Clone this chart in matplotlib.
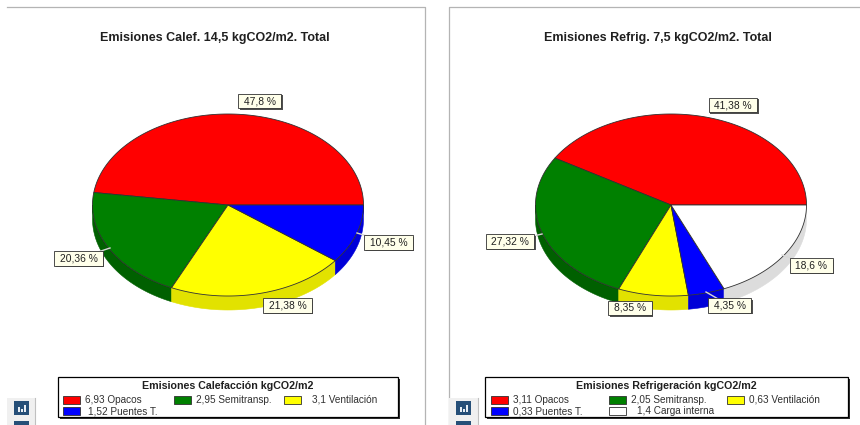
import numpy as np
import matplotlib
matplotlib.use("Agg")
import matplotlib.pyplot as plt
from matplotlib.patches import Rectangle

plt.rcParams["font.family"] = ["Liberation Sans", "DejaVu Sans"]

# ── Data ──────────────────────────────────────────────────────────────────────
heat_title = "Emisiones Calef. 14,5 kgCO2/m2. Total"
heat_legend_title = "Emisiones Calefacción kgCO2/m2"
heat_pct = [47.8, 20.36, 21.38, 10.45]
heat_values = ["6,93", "2,95", "3,1", "1,52"]
heat_names = ["Opacos", "Semitransp.", "Ventilación", "Puentes T."]
heat_colors = ["#ff0000", "#008000", "#ffff00", "#0000ff"]

cool_title = "Emisiones Refrig. 7,5 kgCO2/m2. Total"
cool_legend_title = "Emisiones Refrigeración kgCO2/m2"
cool_pct = [41.38, 27.32, 8.35, 4.35, 18.6]
cool_values = ["3,11", "2,05", "0,63", "0,33", "1,4"]
cool_names = ["Opacos", "Semitransp.", "Ventilación", "Puentes T.", "Carga interna"]
cool_colors = ["#ff0000", "#008000", "#ffff00", "#0000ff", "#ffffff"]

SIDE = {"#ff0000": "#cc0000", "#008000": "#006000", "#ffff00": "#e2e200",
        "#0000ff": "#0000d8", "#ffffff": "#dcdcdc"}

# ── Canvas in pixel coordinates ───────────────────────────────────────────────
fig = plt.figure(figsize=(8.6, 4.25), dpi=100)
ax = fig.add_axes([0, 0, 1, 1])
ax.set_xlim(0, 860)
ax.set_ylim(425, 0)
ax.axis("off")


def tilted_pie(cx, cy, pct, colors, rx=135.5, ry=91, depth=14):
    edges = np.cumsum([0] + list(pct)) / sum(pct) * 2 * np.pi

    # side wall first, only the front half of the ellipse is visible
    for a0, a1, c in zip(edges[:-1], edges[1:], colors):
        lo, hi = max(a0, np.pi), min(a1, 2 * np.pi)
        if hi <= lo:
            continue
        t = np.linspace(lo, hi, 80)
        x = cx + rx * np.cos(t)
        y = cy - ry * np.sin(t)
        ax.fill(np.r_[x, x[::-1]], np.r_[y, y[::-1] + depth], fc=SIDE[c],
                ec=SIDE[c], lw=0.4, zorder=2)

    # top face
    for a0, a1, c in zip(edges[:-1], edges[1:], colors):
        t = np.linspace(a0, a1, 160)
        x = np.r_[cx, cx + rx * np.cos(t)]
        y = np.r_[cy, cy - ry * np.sin(t)]
        ax.fill(x, y, fc=c, ec="#303030", lw=0.6, zorder=3)


def pct_label(x, y, pct, lead=None):
    txt = f"{pct} %".replace(".", ",")
    if lead is not None:
        ax.plot([lead[0], x], [lead[1], y], color="#d8d8d8", lw=1, zorder=4)
    label = ax.text(x, y, txt, fontsize=7.4, ha="center", va="center", color="#202020", zorder=7)
    # box is sized from the text so it stays flatter than a bbox padding would
    ext = label.get_window_extent(fig.canvas.get_renderer())
    w = ext.width + 11
    h = 14.5
    ax.add_patch(Rectangle((x - w / 2 + 1.5, y - h / 2 + 1.5), w, h, fc="#505050", ec="none", zorder=5))
    ax.add_patch(Rectangle((x - w / 2, y - h / 2), w, h, fc="#ffffea", ec="#303030", lw=0.6, zorder=6))


def legend_box(x0, x1, title, values, names, colors, swatch_x, text_x):
    ax.add_patch(Rectangle((x0 + 2, 379), x1 - x0, 40, fc="#303030", ec="none", zorder=5))
    ax.add_patch(Rectangle((x0, 377), x1 - x0, 40, fc="white", ec="black", lw=0.9, zorder=6))
    ax.text((x0 + x1) / 2, 385.7, title, fontsize=7.7, fontweight="bold", ha="center",
            va="center", color="#202020", zorder=7)
    for i, (v, n, c) in enumerate(zip(values, names, colors)):
        y = 400 if i < 3 else 411
        ax.add_patch(Rectangle((swatch_x[i], y - 4), 17, 8, fc=c, ec="#303030", lw=0.6, zorder=7))
        ax.text(text_x[i], y, f"{v} {n}", fontsize=7.2, ha="left", va="center",
                color="#303030", zorder=7)


def side_icons(x, bg_x0, bg_x1):
    ax.add_patch(Rectangle((bg_x0, 398), bg_x1 - bg_x0, 27, fc="#f0f0f0", ec="none", zorder=1))
    ax.plot([bg_x1, bg_x1], [398, 425], color="#c0c0c0", lw=0.8, zorder=1)
    ax.add_patch(Rectangle((x, 401), 14.5, 14, fc="#264f78", ec="none", zorder=2))
    ax.add_patch(Rectangle((x, 421), 14.5, 4, fc="#264f78", ec="none", zorder=2))
    for dx, h in zip((4, 7, 10), (5, 3.5, 7.5)):
        ax.add_patch(Rectangle((x + dx, 412 - h), 1.5, h, fc="#e8eef4", ec="none", zorder=3))


# ── Panel frames ──────────────────────────────────────────────────────────────
ax.plot([7, 425, 425], [7, 7, 425], color="#b4b4b4", lw=0.9, zorder=1)
ax.plot([860, 449, 449], [7, 7, 425], color="#b4b4b4", lw=0.9, zorder=1)

# ── Heating ───────────────────────────────────────────────────────────────────
ax.text(215, 37.5, heat_title, fontsize=9, fontweight="bold", ha="center", va="center",
        color="#202020")
tilted_pie(228, 205, heat_pct, heat_colors)
pct_label(259.5, 101, heat_pct[0])
pct_label(78.5, 258.5, heat_pct[1], lead=(110, 248))
pct_label(287.5, 305.5, heat_pct[2])
pct_label(388.5, 242.5, heat_pct[3], lead=(357, 233))
legend_box(58, 398, heat_legend_title, heat_values, heat_names, heat_colors,
           [63, 174, 284, 63], [85, 196, 312, 88])
side_icons(14, 7, 35)

# ── Cooling ───────────────────────────────────────────────────────────────────
ax.text(657.5, 37.5, cool_title, fontsize=9, fontweight="bold", ha="center", va="center",
        color="#202020")
tilted_pie(671, 205, cool_pct, cool_colors)
pct_label(733, 105, cool_pct[0])
pct_label(510, 241.5, cool_pct[1], lead=(542, 234))
pct_label(630, 308, cool_pct[2])
pct_label(729.5, 305.5, cool_pct[3], lead=(706, 292))
pct_label(811, 265.5, cool_pct[4], lead=(782, 255))
legend_box(485, 848, cool_legend_title, cool_values, cool_names, cool_colors,
           [491, 609, 727, 491, 609], [513, 631, 749, 513, 637])
side_icons(456, 449, 478)

fig.savefig("out.png", dpi=100, facecolor="white")
